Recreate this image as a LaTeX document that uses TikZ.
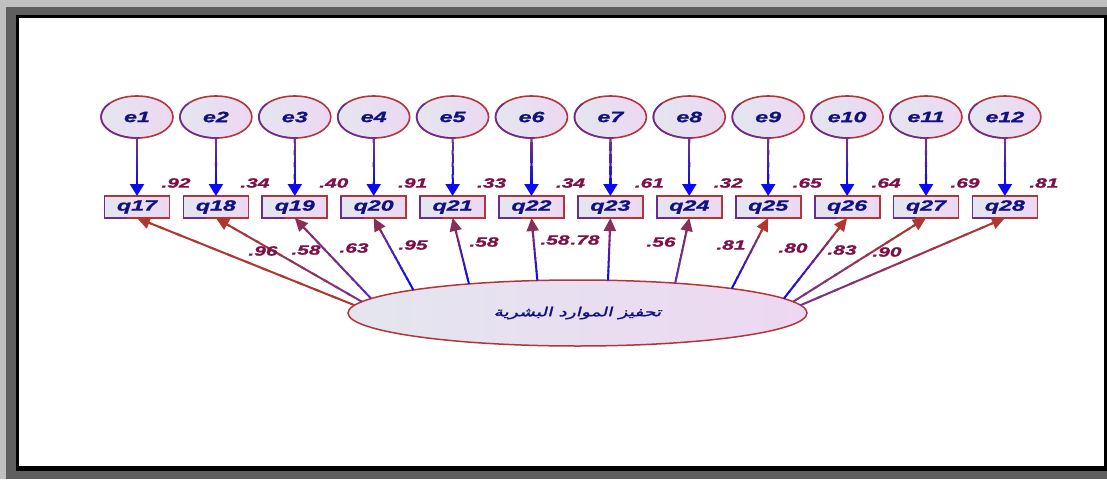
\documentclass[tikz,border=0pt]{standalone}
\usepackage{fontspec}
\usetikzlibrary{shapes.geometric,arrows.meta,calc}
\TeXXeTstate=1
\newfontfamily\amosfont{Liberation Sans}[FakeStretch=1.55,FakeBold=1.2]
\newfontfamily\arabicfont{DejaVu Sans}[Script=Arabic,FakeSlant=0.25,FakeBold=2,FakeStretch=1.5]

\definecolor{rimred}{HTML}{B0363A}
\definecolor{rimpurple}{HTML}{6A2C90}
\definecolor{fillL}{HTML}{E3E6EF}
\definecolor{fillR}{HTML}{EED7F2}
\definecolor{navytext}{HTML}{12127E}
\definecolor{coefcol}{HTML}{7D1046}
\definecolor{errtop}{HTML}{7A3478}
\definecolor{arblue}{HTML}{0A0AF5}
\definecolor{brick}{HTML}{B0362F}
\definecolor{wine}{HTML}{8A2D58}
\definecolor{violettwo}{HTML}{5A2EB8}
\definecolor{purp}{HTML}{7A3088}
\definecolor{framedark}{HTML}{5F5F5F}
\definecolor{framelight}{HTML}{C0C0C0}

% gradient connector: from, to, start colour, end colour, tip colour, kind
\newcommand\gradarrow[6]{%
  \path (#1) coordinate (ga);
  \path (#2) coordinate (gb);
  \path ($(gb)!10pt!(ga)$) coordinate (ge);
  \foreach \k in {0,...,11}{%
    \pgfmathsetmacro\pa{\k/12}%
    \pgfmathsetmacro\pb{min(1,(\k+1.3)/12)}%
    \pgfmathtruncatemacro\pc{100*\k/11}%
    \draw[#6 shaft, draw=#4!\pc!#3] ($(ga)!\pa!(ge)$) -- ($(ga)!\pb!(ge)$);
  }%
  \draw[#6 shaft, #6 head, #5] ($(gb)!16pt!(ga)$) -- (gb);
}

\begin{document}
\begin{tikzpicture}[x=1pt,y=1pt,
  errnode/.style={ellipse, minimum width=72pt, minimum height=42pt, inner sep=0pt,
    outer sep=0pt, left color=fillL, right color=fillR, draw=rimred, line width=1.6pt,
    font=\amosfont\bfseries\itshape\fontsize{15}{15}\selectfont, text=navytext},
  itembox/.style={rectangle, minimum width=65pt, minimum height=22pt, inner sep=0pt,
    outer sep=0pt, left color=fillL, right color=fillR, draw=rimred, line width=1.8pt,
    font=\amosfont\bfseries\itshape\fontsize{15}{15}\selectfont, text=navytext},
  latent/.style={ellipse, minimum width=459pt, minimum height=66pt, inner sep=0pt,
    outer sep=0pt, left color=fillL, right color=fillR, draw=rimred, line width=1.5pt,
    text=navytext},
  coef/.style={font=\amosfont\bfseries\itshape\fontsize{13.5}{13.5}\selectfont,
    text=coefcol, inner sep=0pt},
  err shaft/.style={line width=2.2pt, line cap=butt},
  err head/.style={-{Triangle[width=14pt,length=12pt]}},
  load shaft/.style={line width=2pt, line cap=butt},
  load head/.style={-{Triangle[width=12pt,length=13pt]}}]

% window frame
\useasboundingbox (0,0) rectangle (1107,-479);
\fill[framedark] (0,0) rectangle (1107,-479);
\fill[framelight] (0,0) rectangle (1107,-7);
\fill[framelight] (0,0) rectangle (6,-479);
\fill[black] (16,-15) rectangle (1107,-471);
\fill[white] (19,-18) rectangle (1104,-466);

% latent factor
\node[latent] (lat) at (577.5,-313)
  {\arabicfont\fontsize{12.5}{12.5}\selectfont\beginR تحفيز الموارد البشرية\endR};

% error terms, items and error coefficients
\foreach \i/\q/\r in {1/17/.92, 2/18/.34, 3/19/.40, 4/20/.91, 5/21/.33, 6/22/.34,
                      7/23/.61, 8/24/.32, 9/25/.65, 10/26/.64, 11/27/.69, 12/28/.81}{
  \pgfmathsetmacro\xx{137+(\i-1)*78.9}
  \node[errnode] (e\i) at (\xx,-117) {e\i};
  \draw[rimpurple, line width=1.6pt]
    ($(e\i.center)+(140:36pt and 21pt)$) arc[start angle=140, end angle=275, x radius=36pt, y radius=21pt];
  \node[itembox] (q\q) at (\xx,-207) {q\q};
  \draw[rimpurple, line width=1.8pt]
    (q\q.north west) -- (q\q.south west) -- ($(q\q.south west)!0.35!(q\q.south east)$);
  \node[coef] (r\q) at (\xx+39,-183) {\r};
  \gradarrow{e\i.south}{q\q.north}{errtop}{arblue}{arblue}{err}
}

% factor loadings
\foreach \q/\ang/\cs/\ce/\ct in {17/178/brick/brick/brick, 18/177/purp/brick/brick,
    19/176/violettwo/wine/wine, 20/172/arblue/purp/wine, 21/165/arblue/wine/wine,
    22/141/arblue/wine/wine, 23/47/arblue/wine/wine, 24/17/violettwo/wine/wine,
    25/9/arblue/brick/brick, 26/4/arblue/brick/brick, 27/3/purp/brick/brick,
    28/2/purp/brick/brick}{
  \gradarrow{lat.\ang}{q\q.south}{\cs}{\ce}{\ct}{load}
}

% loading coefficients
\foreach \q/\x/\y/\v in {17/263/251/.96, 18/306/250/.58, 19/354/248/.63, 20/413/245/.95,
    21/484/242/.58, 22/555/240/.58, 23/585/240/.78, 24/661/242/.56, 25/731/245/.81,
    26/793/248/.80, 27/842/250/.83, 28/887/252/.90}{
  \node[coef] (w\q) at (\x,-\y) {\v};
}
\end{tikzpicture}
\end{document}
